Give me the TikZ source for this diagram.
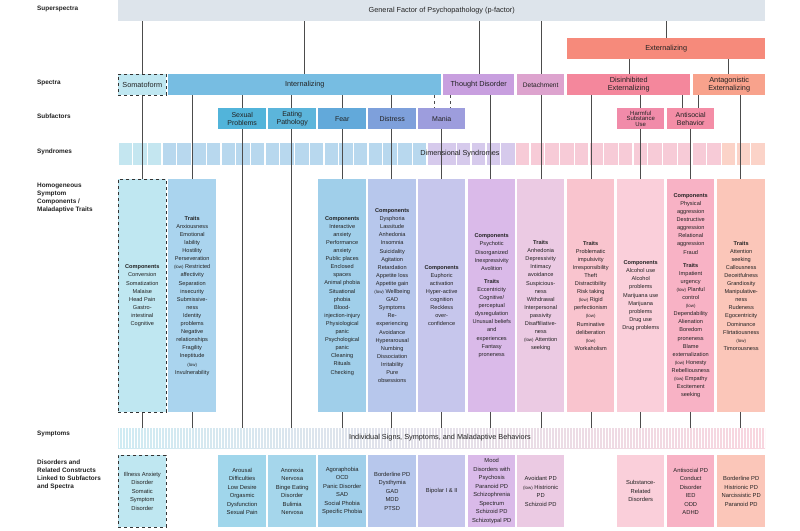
\documentclass[tikz,border=0pt]{standalone}
\usepackage{fontspec}
\setmainfont{Liberation Sans}
\definecolor{txt}{HTML}{222222}
\definecolor{ssp}{HTML}{DDE4EB}
\definecolor{ext}{HTML}{F68A7B}
\definecolor{soma}{HTML}{BFE7F1}
\definecolor{intl}{HTML}{77BDE2}
\definecolor{thd}{HTML}{C89FDF}
\definecolor{det}{HTML}{DDA3CE}
\definecolor{dis}{HTML}{F4879C}
\definecolor{ant}{HTML}{F8A28C}
\definecolor{sexp}{HTML}{52B4DA}
\definecolor{eatp}{HTML}{5CB5DB}
\definecolor{fear}{HTML}{62A9DA}
\definecolor{dist}{HTML}{7EA0DB}
\definecolor{mani}{HTML}{9D9DDD}
\definecolor{harm}{HTML}{F18BA9}
\definecolor{asb}{HTML}{F48DA6}
\definecolor{cTr}{HTML}{AAD4EE}
\definecolor{cFe}{HTML}{A0CFEA}
\definecolor{cDi}{HTML}{B7C7EC}
\definecolor{cMa}{HTML}{C6C6EC}
\definecolor{cTh}{HTML}{DABAE9}
\definecolor{cDe}{HTML}{EBCAE3}
\definecolor{cDx}{HTML}{F9C4CE}
\definecolor{cSu}{HTML}{FACFDA}
\definecolor{cAs}{HTML}{F8B2C5}
\definecolor{cAn}{HTML}{FBC6B9}
\definecolor{synA}{HTML}{C4E6F0}
\definecolor{synB}{HTML}{B8D8EE}
\definecolor{synC}{HTML}{D6CAEC}
\definecolor{synD}{HTML}{F7CBD7}
\definecolor{synE}{HTML}{FBD3C8}
\newcommand\bx[7]{\pgfmathsetmacro\bw{#4-#2}\pgfmathsetmacro\bh{#5-#3}%
 \node[#6,minimum width=\bw pt,minimum height=\bh pt,inner sep=0pt,align=center,anchor=north west,text=txt] (#1) at (#2,#3) {#7};}
\newcommand\hb[1]{\textbf{#1}}
\newcommand\lw{{\fontsize{4.4}{5}\selectfont(low)}}
\tikzset{
 conn/.style={draw=black!70,line width=0.6pt},
 hdr/.style={font=\fontsize{7.3}{8.3}\selectfont},
 sub/.style={font=\fontsize{7}{7.6}\selectfont},
 col/.style={font=\fontsize{5.6}{8.1}\selectfont},
 dsd/.style={font=\fontsize{5.8}{8.5}\selectfont},
 lab/.style={font=\fontsize{6.4}{7.8}\selectfont\bfseries,align=left,anchor=north west,text=txt,inner sep=0pt},
 dsh/.style={draw=black!80,dashed,line width=0.6pt}
}
\begin{document}
\begin{tikzpicture}[x=1pt,y=-1pt]
\useasboundingbox (0,0) rectangle (800,530);
% left labels
\node[lab] (l1) at (37,6) {Superspectra};
\node[lab] (l2) at (37,80) {Spectra};
\node[lab] (l3) at (37,114) {Subfactors};
\node[lab] (l4) at (37,149) {Syndromes};
\node[lab] (l5) at (37,183) {Homogeneous\\Symptom\\Components /\\Maladaptive Traits};
\node[lab] (l6) at (37,431) {Symptoms};
\node[lab] (l7) at (37,460) {Disorders and\\Related Constructs\\Linked to Subfactors\\and Spectra};
% syndromes squares
\foreach \i in {0,...,43}{
 \ifnum\i<3 \def\cc{synA}\else\ifnum\i<21 \def\cc{synB}\else\ifnum\i<27 \def\cc{synC}\else\ifnum\i<41 \def\cc{synD}\else\def\cc{synE}\fi\fi\fi\fi
 \fill[\cc] ({118.5+\i*14.72},143) rectangle ++(13.4,22);
}
\node[hdr,text=txt] (syn) at (460,154) {Dimensional Syndromes};
% symptoms bar
\shade[left color=synA!80,middle color=synC!70,right color=synD!80] (118,428) rectangle (765,448);
\foreach \x in {119.5,122.5,...,765}{\draw[white,line width=0.5pt] (\x,428) -- (\x,448);}
\node[hdr,text=txt] (sym) at (440,438) {Individual Signs, Symptoms, and Maladaptive Behaviors};
% connectors
\foreach \x in {142,192,242,291,342,391,490,541,591,640,740}{\draw[conn] (\x,21) ++(0,0) (\x,95) -- (\x,428);}
\draw[conn] (142,21) -- (142,74);
\draw[conn] (304,21) -- (304,74);
\draw[conn] (479,21) -- (479,74);
\draw[conn] (541,21) -- (541,74);
\draw[conn] (666,21) -- (666,38);
\draw[conn] (629,59) -- (629,74);
\draw[conn] (728,59) -- (728,74);
\draw[conn,dashed] (434,95) -- (434,108);
\draw[conn,dashed] (450,95) -- (450,108);
\draw[conn] (441,129) -- (441,428);
\draw[conn] (682,95) -- (682,108);
\draw[conn] (698,95) -- (698,108);
\draw[conn] (690,129) -- (690,428);
% superspectra / spectra
\bx{pf}{118}{0}{765}{21}{fill=ssp,hdr}{General Factor of Psychopathology (p-factor)}
\bx{ex}{567}{38}{765}{59}{fill=ext,hdr}{Externalizing}
\bx{so}{118}{74}{166}{95}{fill=soma,dsh,hdr}{Somatoform}
\bx{in}{168}{74}{441}{95}{fill=intl,hdr}{Internalizing}
\bx{th}{443}{74}{514}{95}{fill=thd,hdr}{Thought Disorder}
\bx{de}{517}{74}{564}{95}{fill=det,font=\fontsize{6.6}{7.6}\selectfont}{Detachment}
\bx{di}{567}{74}{690}{95}{fill=dis,hdr}{Disinhibited\\Externalizing}
\bx{an}{693}{74}{765}{95}{fill=ant,hdr}{Antagonistic\\Externalizing}
% subfactors
\bx{sp}{218}{108}{266}{129}{fill=sexp,sub}{Sexual\\Problems}
\bx{ep}{268}{108}{316}{129}{fill=eatp,sub}{Eating\\Pathology}
\bx{fe}{318}{108}{366}{129}{fill=fear,sub}{Fear}
\bx{ds}{368}{108}{416}{129}{fill=dist,sub}{Distress}
\bx{ma}{418}{108}{465}{129}{fill=mani,sub}{Mania}
\bx{hs}{617}{108}{664}{129}{fill=harm,font=\fontsize{6}{5.6}\selectfont}{Harmful\\Substance\\Use}
\bx{ab}{667}{108}{714}{129}{fill=asb,sub}{Antisocial\\Behavior}
% homogeneous components / traits
\bx{c1}{118}{179}{166}{412}{fill=soma,dsh,col}{\hb{Components}\\Conversion\\Somatization\\Malaise\\Head Pain\\Gastro-\\intestinal\\Cognitive}
\bx{c2}{168}{179}{216}{412}{fill=cTr,col}{\hb{Traits}\\Anxiousness\\Emotional\\lability\\Hostility\\Perseveration\\\lw{} Restricted\\affectivity\\Separation\\insecurity\\Submissive-\\ness\\Identity\\problems\\Negative\\relationships\\Fragility\\Ineptitude\\\lw\\Invulnerability}
\bx{c3}{318}{179}{366}{412}{fill=cFe,col}{\hb{Components}\\Interactive\\anxiety\\Performance\\anxiety\\Public places\\Enclosed\\spaces\\Animal phobia\\Situational\\phobia\\Blood-\\injection-injury\\Physiological\\panic\\Psychological\\panic\\Cleaning\\Rituals\\Checking}
\bx{c4}{368}{179}{416}{412}{fill=cDi,col}{\hb{Components}\\Dysphoria\\Lassitude\\Anhedonia\\Insomnia\\Suicidality\\Agitation\\Retardation\\Appetite loss\\Appetite gain\\\lw{} Wellbeing\\GAD\\Symptoms\\Re-\\experiencing\\Avoidance\\Hyperarousal\\Numbing\\Dissociation\\Irritability\\Pure\\obsessions}
\bx{c5}{418}{179}{465}{412}{fill=cMa,col}{\hb{Components}\\Euphoric\\activation\\Hyper-active\\cognition\\Reckless\\over-\\confidence}
\bx{c6}{468}{179}{515}{412}{fill=cTh,col}{\hb{Components}\\Psychotic\\Disorganized\\Inexpressivity\\Avolition\\[5pt]\hb{Traits}\\Eccentricity\\Cognitive/\\perceptual\\dysregulation\\Unusual beliefs\\and\\experiences\\Fantasy\\proneness}
\bx{c7}{517}{179}{564}{412}{fill=cDe,col}{\hb{Traits}\\Anhedonia\\Depressivity\\Intimacy\\avoidance\\Suspicious-\\ness\\Withdrawal\\Interpersonal\\passivity\\Disaffiliative-\\ness\\\lw{} Attention\\seeking}
\bx{c8}{567}{179}{614}{412}{fill=cDx,col}{\hb{Traits}\\Problematic\\impulsivity\\Irresponsibility\\Theft\\Distractibility\\Risk taking\\\lw{} Rigid\\perfectionism\\\lw\\Ruminative\\deliberation\\\lw\\Workaholism}
\bx{c9}{617}{179}{664}{412}{fill=cSu,col}{\hb{Components}\\Alcohol use\\Alcohol\\problems\\Marijuana use\\Marijuana\\problems\\Drug use\\Drug problems}
\bx{c10}{667}{179}{714}{412}{fill=cAs,col}{\hb{Components}\\Physical\\aggression\\Destructive\\aggression\\Relational\\aggression\\Fraud\\[5pt]\hb{Traits}\\Impatient\\urgency\\\lw{} Planful\\control\\\lw\\Dependability\\Alienation\\Boredom\\proneness\\Blame\\externalization\\\lw{} Honesty\\Rebelliousness\\\lw{} Empathy\\Excitement\\seeking}
\bx{c11}{717}{179}{765}{412}{fill=cAn,col}{\hb{Traits}\\Attention\\seeking\\Callousness\\Deceitfulness\\Grandiosity\\Manipulative-\\ness\\Rudeness\\Egocentricity\\Dominance\\Flirtatiousness\\\lw\\Timorousness}
% disorders
\bx{d1}{118}{455}{166}{527}{fill=soma,dsh,dsd}{Illness Anxiety\\Disorder\\Somatic\\Symptom\\Disorder}
\bx{d2}{218}{455}{266}{527}{fill=sexp!55,dsd}{Arousal\\Difficulties\\Low Desire\\Orgasmic\\Dysfunction\\Sexual Pain}
\bx{d3}{268}{455}{316}{527}{fill=eatp!55,dsd}{Anorexia\\Nervosa\\Binge Eating\\Disorder\\Bulimia\\Nervosa}
\bx{d4}{318}{455}{366}{527}{fill=cFe,dsd}{Agoraphobia\\OCD\\Panic Disorder\\SAD\\Social Phobia\\Specific Phobia}
\bx{d5}{368}{455}{416}{527}{fill=cDi,dsd}{Borderline PD\\Dysthymia\\GAD\\MDD\\PTSD}
\bx{d6}{418}{455}{465}{527}{fill=cMa,dsd}{Bipolar I \& II}
\bx{d7}{468}{455}{515}{527}{fill=cTh,dsd}{Mood\\Disorders with\\Psychosis\\Paranoid PD\\Schizophrenia\\Spectrum\\Schizoid PD\\Schizotypal PD}
\bx{d8}{517}{455}{564}{527}{fill=cDe,dsd}{Avoidant PD\\\lw{} Histrionic\\PD\\Schizoid PD}
\bx{d9}{617}{455}{664}{527}{fill=cSu,dsd}{Substance-\\Related\\Disorders}
\bx{d10}{667}{455}{714}{527}{fill=cAs,dsd}{Antisocial PD\\Conduct\\Disorder\\IED\\ODD\\ADHD}
\bx{d11}{717}{455}{765}{527}{fill=cAn,dsd}{Borderline PD\\Histrionic PD\\Narcissistic PD\\Paranoid PD}
\end{tikzpicture}
\end{document}
